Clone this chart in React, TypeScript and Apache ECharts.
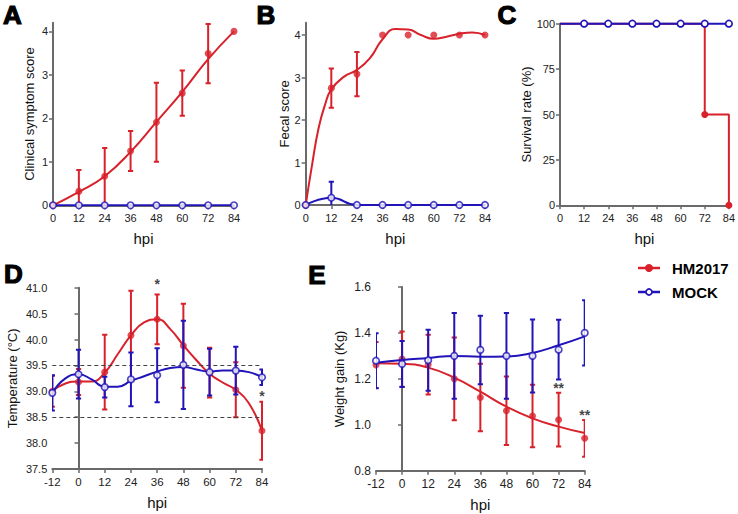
import React, { useEffect, useRef } from "react";
import * as echarts from "echarts";

const RED = "#d8212b";
const BLUE = "#2114b8";
const AXIS = "#6a6a6a";
const FONT = "'Liberation Sans', Arial, sans-serif";

// ---------- Panel A: clinical symptom score ----------
const hpiA = [0, 12, 24, 36, 48, 60, 72, 84];
const clinicalHM = [0, 0.32, 0.67, 1.25, 1.91, 2.58, 3.49, 4.0];
const clinicalHMsd = [0, 0.49, 0.65, 0.46, 0.91, 0.52, 0.68, 0];
const clinicalMock = [0, 0, 0, 0, 0, 0, 0, 0];
const clinicalFitHM = [0, 0.31, 0.67, 1.23, 1.92, 2.61, 3.36, 4.0];

// ---------- Panel B: fecal score ----------
const hpiB = [0, 12, 24, 36, 48, 60, 72, 84];
const fecalHM = [0, 2.75, 3.08, 4.0, 4.0, 4.0, 4.0, 4.0];
const fecalHMsd = [0, 0.46, 0.52, 0, 0, 0, 0, 0];
const fecalMock = [0, 0.17, 0, 0, 0, 0, 0, 0];
const fecalMocksd = [0, 0.38, 0, 0, 0, 0, 0, 0];
const fecalFitX = [0, 3, 6, 9, 12, 18, 24, 30, 36, 42, 48, 54, 60, 66, 72, 78, 84];
const fecalFitHM = [0, 0.95, 1.8, 2.35, 2.72, 3.02, 3.18, 3.45, 3.9, 4.14, 4.13, 4.0, 3.91, 3.96, 4.03, 4.06, 4.0];
const fecalFitMockX = [0, 12, 24, 36, 48, 60, 72, 84];
const fecalFitMock = [0, 0.17, 0, 0, 0, 0, 0, 0];

// ---------- Panel C: survival ----------
const hpiC = [0, 12, 24, 36, 48, 60, 72, 84];
const survivalHM = [100, 100, 100, 100, 100, 100, 50, 0];
const survivalMock = [100, 100, 100, 100, 100, 100, 100, 100];

// ---------- Panel D: temperature ----------
const hpiD = [-12, 0, 12, 24, 36, 48, 60, 72, 84];
const tempHM = [39.0, 39.18, 39.37, 40.08, 40.39, 39.88, 39.36, 39.03, 38.24];
const tempHMsd = [0.3, 0.25, 0.72, 0.86, 0.48, 0.81, 0.48, 0.53, 0.56];
const tempMock = [38.97, 39.33, 39.08, 39.23, 39.31, 39.51, 39.37, 39.4, 39.27];
const tempMocksd = [0.34, 0.47, 0.2, 0.52, 0.52, 0.85, 0.45, 0.46, 0.15];
const tempFitX = [-12, -6, 0, 6, 12, 18, 24, 30, 36, 42, 48, 54, 60, 66, 72, 78, 84];
const tempFitHM = [39.0, 39.15, 39.19, 39.19, 39.36, 39.72, 40.08, 40.33, 40.39, 40.2, 39.89, 39.6, 39.34, 39.17, 39.03, 38.77, 38.24];
const tempFitMock = [38.97, 39.25, 39.33, 39.23, 39.09, 39.09, 39.2, 39.29, 39.38, 39.45, 39.47, 39.42, 39.38, 39.4, 39.4, 39.37, 39.27];
const tempRefLines = [39.5, 38.5];
const tempStars = [
  { x: 36, y: 41.15, text: "*" },
  { x: 84, y: 38.99, text: "*" },
];

// ---------- Panel E: weight gain ----------
const hpiE = [-12, 0, 12, 24, 36, 48, 60, 72, 84];
const weightHM = [1.26, 1.286, 1.262, 1.2, 1.119, 1.061, 1.038, 1.022, 0.941];
const weightHMsd = [0.1, 0.12, 0.13, 0.18, 0.147, 0.149, 0.136, 0.117, 0.08];
const weightMock = [1.279, 1.265, 1.281, 1.3, 1.326, 1.3, 1.3, 1.327, 1.4];
const weightMocksd = [0.12, 0.1, 0.133, 0.187, 0.149, 0.187, 0.159, 0.13, 0.142];
const weightFitHM = [1.268, 1.266, 1.249, 1.205, 1.144, 1.079, 1.028, 0.992, 0.964];
const weightFitMock = [1.27, 1.282, 1.291, 1.3, 1.296, 1.297, 1.313, 1.346, 1.385];
const weightStars = [
  { x: 72, y: 1.177, text: "**" },
  { x: 84, y: 1.058, text: "**" },
];

const zip = (xs: number[], ys: number[]) => xs.map((x, i) => [x, ys[i]]);
const errData = (xs: number[], m: number[], sd: number[]) =>
  xs.map((x, i) => [x, m[i] - sd[i], m[i] + sd[i], sd[i]]).filter((d) => d[3] > 0);

function errorBars(idx: number, data: number[][], color: string, z: number) {
  return {
    type: "custom",
    xAxisIndex: idx,
    yAxisIndex: idx,
    clip: true,
    silent: true,
    z,
    data,
    encode: { x: 0, y: [1, 2] },
    renderItem: (_p: any, api: any) => {
      const x = api.value(0);
      const top = api.coord([x, api.value(2)]);
      const bot = api.coord([x, api.value(1)]);
      const hw = 2.6;
      const style = { stroke: color, lineWidth: 2 };
      return {
        type: "group",
        children: [
          { type: "line", shape: { x1: top[0], y1: top[1], x2: bot[0], y2: bot[1] }, style },
          { type: "line", shape: { x1: top[0] - hw, y1: top[1], x2: top[0] + hw, y2: top[1] }, style },
          { type: "line", shape: { x1: bot[0] - hw, y1: bot[1], x2: bot[0] + hw, y2: bot[1] }, style },
        ],
      };
    },
  };
}

function fitLine(idx: number, data: number[][], color: string, z: number, extra: any = {}) {
  return {
    type: "line",
    xAxisIndex: idx,
    yAxisIndex: idx,
    data,
    smooth: 0.5,
    showSymbol: false,
    symbol: "none",
    silent: true,
    z,
    lineStyle: { color, width: 2 },
    ...extra,
  };
}

function points(idx: number, data: number[][], filled: boolean, z: number) {
  return {
    type: "scatter",
    xAxisIndex: idx,
    yAxisIndex: idx,
    data,
    symbol: "circle",
    symbolSize: filled ? 7 : 6.5,
    silent: true,
    clip: false,
    z,
    itemStyle: filled
      ? { color: RED }
      : { color: "#ffffff", borderColor: BLUE, borderWidth: 1.7 },
  };
}

function starSeries(idx: number, stars: { x: number; y: number; text: string }[]) {
  return {
    type: "scatter",
    xAxisIndex: idx,
    yAxisIndex: idx,
    symbolSize: 0,
    silent: true,
    clip: false,
    z: 20,
    data: stars.map((s) => ({ value: [s.x, s.y], name: s.text })),
    label: {
      show: true,
      position: "inside",
      formatter: "{b}",
      color: "#111",
      fontSize: 14,
      fontWeight: "bold",
      fontFamily: FONT,
      offset: [0, 4],
    },
  };
}

const axisCommon = {
  axisLine: { show: true, lineStyle: { color: AXIS, width: 2 } },
  axisTick: { show: true, length: 4, lineStyle: { color: AXIS, width: 1.5 } },
  splitLine: { show: false },
  nameTextStyle: { color: "#111", fontSize: 13, fontFamily: FONT },
};

function xAxis(idx: number, min: number, fontSize = 11) {
  return {
    type: "value",
    gridIndex: idx,
    min,
    max: 84,
    interval: 12,
    name: "hpi",
    nameLocation: "middle",
    nameGap: 26,
    ...axisCommon,
    nameTextStyle: { color: "#111", fontSize: 15, fontFamily: FONT },
    axisLabel: { color: "#222", fontSize, fontFamily: FONT, margin: 7 },
  };
}

function yAxis(idx: number, name: string, min: number, max: number, interval: number, nameGap: number, opts: any = {}) {
  return {
    type: "value",
    gridIndex: idx,
    min,
    max,
    interval,
    name,
    nameLocation: "middle",
    nameGap,
    ...axisCommon,
    axisLabel: { color: "#222", fontSize: 11, fontFamily: FONT, margin: 5, ...(opts.axisLabel || {}) },
    ...(opts.axisTick ? { axisTick: { ...axisCommon.axisTick, ...opts.axisTick } } : {}),
  };
}

function letter(text: string, x: number, y: number) {
  return {
    type: "text",
    x,
    y,
    style: {
      text,
      fill: "#000",
      stroke: "#000",
      lineWidth: 1.2,
      font: `bold 26px ${FONT}`,
      align: "center",
      verticalAlign: "middle",
    },
  };
}

export default function App() {
  const ref = useRef<HTMLDivElement>(null);

  useEffect(() => {
    if (!ref.current) return;
    const chart = echarts.init(ref.current, undefined, { renderer: "svg" });

    const option: any = {
      animation: false,
      backgroundColor: "#ffffff",
      textStyle: { fontFamily: FONT },
      grid: [
        { left: 53, top: 22.7, width: 181, height: 182.6 },
        { left: 305.7, top: 22.7, width: 179.3, height: 182.3 },
        { left: 560, top: 23.7, width: 172, height: 181.6 },
        { left: 52.3, top: 287.7, width: 209.7, height: 181.3 },
        { left: 376, top: 287, width: 208.7, height: 183.7 },
      ],
      xAxis: [xAxis(0, 0), xAxis(1, 0), xAxis(2, 0), xAxis(3, -12, 11.5), xAxis(4, -12, 12)],
      yAxis: [
        yAxis(0, "Clinical symptom score", 0, 4.2, 1, 17, {
          axisLabel: { customValues: [0, 1, 2, 3, 4] },
          axisTick: { customValues: [0, 1, 2, 3, 4] },
        }),
        yAxis(1, "Fecal score", 0, 4.29, 1, 7, {
          axisLabel: { customValues: [0, 1, 2, 3, 4] },
          axisTick: { customValues: [0, 1, 2, 3, 4] },
        }),
        yAxis(2, "Survival rate (%)", 0, 100, 25, 27),
        yAxis(3, "Temperature (°C)", 37.5, 41, 0.5, 33, {
          axisLabel: { formatter: (v: number) => v.toFixed(1) },
        }),
        yAxis(4, "Weight gain (Kg)", 0.8, 1.6, 0.2, 30, {
          axisLabel: { formatter: (v: number) => v.toFixed(1), fontSize: 12 },
        }),
      ],
      series: [
        // A
        errorBars(0, errData(hpiA, clinicalHM, clinicalHMsd), RED, 3),
        fitLine(0, zip(hpiA, clinicalFitHM), RED, 4),
        points(0, zip(hpiA, clinicalHM), true, 5),
        fitLine(0, zip(hpiA, clinicalMock), BLUE, 7),
        points(0, zip(hpiA, clinicalMock), false, 8),
        // B
        errorBars(1, errData(hpiB, fecalHM, fecalHMsd), RED, 3),
        fitLine(1, zip(fecalFitX, fecalFitHM), RED, 4),
        points(1, zip(hpiB, fecalHM), true, 5),
        errorBars(1, errData(hpiB, fecalMock, fecalMocksd), BLUE, 6),
        fitLine(1, zip(fecalFitMockX, fecalFitMock), BLUE, 7),
        points(1, zip(hpiB, fecalMock), false, 8),
        // C
        {
          type: "line",
          xAxisIndex: 2,
          yAxisIndex: 2,
          step: "end",
          data: zip(hpiC, survivalHM),
          symbol: "circle",
          symbolSize: (v: number[]) => (v[1] === 100 ? 0 : 7),
          itemStyle: { color: RED },
          lineStyle: { color: RED, width: 2 },
          clip: false,
          silent: true,
          z: 4,
        },
        {
          type: "line",
          xAxisIndex: 2,
          yAxisIndex: 2,
          data: zip(hpiC, survivalMock),
          symbol: "circle",
          symbolSize: (v: number[]) => (v[0] === 0 ? 0 : 6.5),
          itemStyle: { color: "#ffffff", borderColor: BLUE, borderWidth: 1.7 },
          lineStyle: { color: BLUE, width: 2 },
          clip: false,
          silent: true,
          z: 7,
        },
        // D
        errorBars(3, errData(hpiD, tempHM, tempHMsd), RED, 3),
        fitLine(3, zip(tempFitX, tempFitHM), RED, 4, {
          markLine: {
            silent: true,
            symbol: "none",
            label: { show: false },
            lineStyle: { color: "#444", type: [4, 3], width: 1 },
            data: tempRefLines.map((v) => ({ yAxis: v })),
          },
        }),
        points(3, zip(hpiD, tempHM), true, 5),
        errorBars(3, errData(hpiD, tempMock, tempMocksd), BLUE, 6),
        fitLine(3, zip(tempFitX, tempFitMock), BLUE, 7),
        points(3, zip(hpiD, tempMock), false, 8),
        starSeries(3, tempStars),
        // E
        errorBars(4, errData(hpiE, weightHM, weightHMsd), RED, 3),
        fitLine(4, zip(hpiE, weightFitHM), RED, 4),
        points(4, zip(hpiE, weightHM), true, 5),
        errorBars(4, errData(hpiE, weightMock, weightMocksd), BLUE, 6),
        fitLine(4, zip(hpiE, weightFitMock), BLUE, 7),
        points(4, zip(hpiE, weightMock), false, 8),
        starSeries(4, weightStars),
      ],
      graphic: [
        letter("A", 12.5, 15),
        letter("B", 266, 15),
        letter("C", 507, 15),
        letter("D", 13.5, 274),
        letter("E", 317, 275),
        { type: "line", shape: { x1: 638, y1: 268, x2: 660, y2: 268 }, style: { stroke: RED, lineWidth: 2.5 } },
        { type: "circle", shape: { cx: 649, cy: 268, r: 4 }, style: { fill: RED } },
        {
          type: "text",
          x: 672,
          y: 268,
          style: { text: "HM2017", font: `bold 15px ${FONT}`, fill: "#000", verticalAlign: "middle" },
        },
        { type: "line", shape: { x1: 638, y1: 292, x2: 660, y2: 292 }, style: { stroke: BLUE, lineWidth: 2.5 } },
        { type: "circle", shape: { cx: 649, cy: 292, r: 3 }, style: { fill: "#fff", stroke: BLUE, lineWidth: 1.7 } },
        {
          type: "text",
          x: 672,
          y: 292,
          style: { text: "MOCK", font: `bold 15px ${FONT}`, fill: "#000", verticalAlign: "middle" },
        },
      ],
    };

    chart.setOption(option);
    return () => chart.dispose();
  }, []);

  return (
    <div
      ref={ref}
      style={{ position: "absolute", left: 0, top: 0, width: 738, height: 514, background: "#fff" }}
    />
  );
}
